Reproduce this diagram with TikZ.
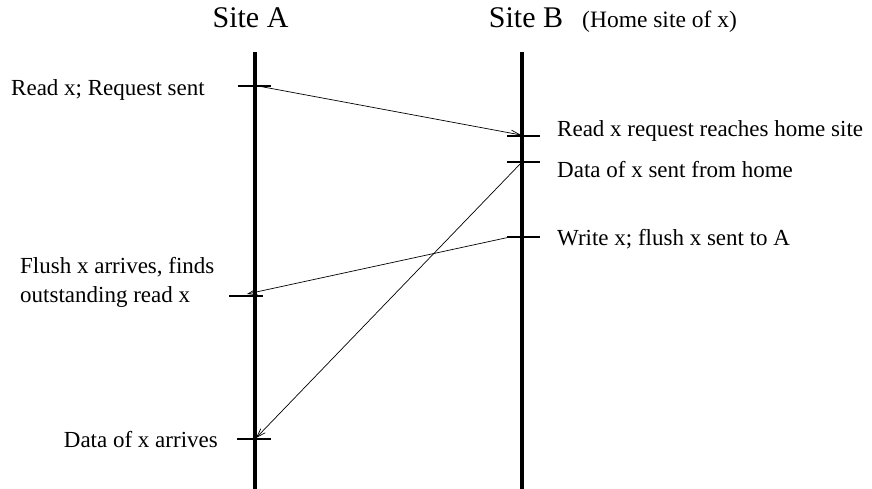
\documentclass[tikz,border=0pt]{standalone}
\usepackage{fontspec}
\setmainfont{Liberation Serif}
\usetikzlibrary{arrows.meta}
\begin{document}
\begin{tikzpicture}[x=1pt,y=-1pt,
  timeline/.style={line width=3.4pt},
  tickmark/.style={line width=1.5pt},
  msg/.style={line width=0.7pt,-{Straight Barb[length=9pt,width=6pt]}},
  heading/.style={font=\fontsize{30}{36}\selectfont, inner sep=0pt, anchor=base},
  note/.style={font=\fontsize{23}{27}\selectfont, inner sep=0pt, anchor=base west},
  notel/.style={font=\fontsize{23}{27}\selectfont, inner sep=0pt, anchor=base east},
]
\useasboundingbox (0,0) rectangle (872,489);

% process time lines
\coordinate (Atop) at (255,52);
\coordinate (Abot) at (255,489);
\coordinate (Btop) at (522,52);
\coordinate (Bbot) at (522,489);
\draw[timeline] (Atop) -- (Abot);
\draw[timeline] (Btop) -- (Bbot);

% headings
\node[heading] (siteA) at (250.5,28) {Site A};
\node[heading] (siteB) at (526,28) {Site B};
\node[note, font=\fontsize{23.5}{28}\selectfont] (home) at (582,28) {(Home site of x)};

% events on the time lines
\coordinate (A1) at (255,86);
\coordinate (A2) at (255,296);
\coordinate (A3) at (255,439);
\coordinate (B1) at (522,136);
\coordinate (B2) at (522,162);
\coordinate (B3) at (522,237);

% tick marks
\draw[tickmark] ([xshift=-17pt]A1) -- ([xshift=16pt]A1);
\draw[tickmark] ([xshift=-26pt]A2) -- ([xshift=8pt]A2);
\draw[tickmark] ([xshift=-18pt]A3) -- ([xshift=16pt]A3);
\draw[tickmark] ([xshift=-15pt]B1) -- ([xshift=18pt]B1);
\draw[tickmark] ([xshift=-15pt]B2) -- ([xshift=18pt]B2);
\draw[tickmark] ([xshift=-15pt]B3) -- ([xshift=18pt]B3);

% messages
\draw[msg] ([xshift=3pt]A1) -- ([xshift=-1pt,yshift=1pt]B1);
\draw[msg] (B2) -- ([xshift=1pt,yshift=1pt]A3);
\draw[msg] ([xshift=-12pt]B3) -- ([xshift=-8pt,yshift=2pt]A2);

% event labels
\node[note] (lA1) at (11,96) {Read x; Request sent};
\node[note] (lB1) at (557,137) {Read x request reaches home site};
\node[note] (lB2) at (557,178) {Data of x sent from home};
\node[note] (lB3) at (557,245) {Write x; flush x sent to A};
\node[note] (lA2a) at (20,273) {Flush x arrives, finds};
\node[note] (lA2b) at (20,302) {outstanding read x};
\node[notel] (lA3) at (218,447) {Data of x arrives};
\end{tikzpicture}
\end{document}
